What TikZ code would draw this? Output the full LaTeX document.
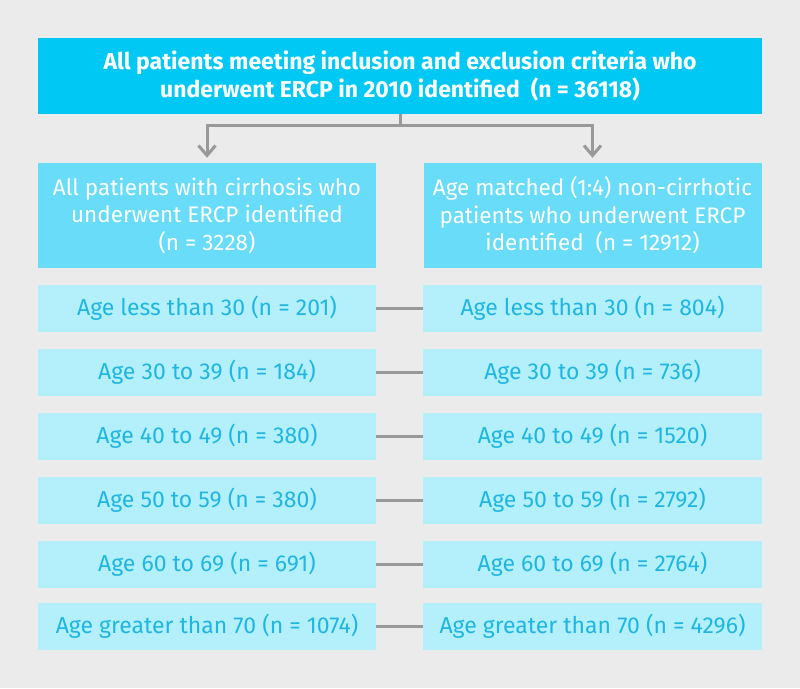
\documentclass[tikz,border=0pt]{standalone}
\usepackage{fontspec}
\setmainfont{Fira Sans}
\usetikzlibrary{arrows.meta,positioning,calc}
\definecolor{pagebg}{HTML}{EBEBEC}
\definecolor{topcyan}{HTML}{00C8F5}
\definecolor{midcyan}{HTML}{68DCF9}
\definecolor{agecyan}{HTML}{B3F0FC}
\definecolor{agetext}{HTML}{1FB6E1}
\definecolor{linkgray}{HTML}{999999}
\tikzset{
  topbox/.style={fill=topcyan, text=white, font=\fontsize{23}{28}\selectfont\bfseries,
    align=center, minimum width=724, minimum height=76, inner sep=0pt},
  groupbox/.style={fill=midcyan, text=white, font=\fontsize{22.5}{27.5}\selectfont,
    align=center, minimum width=338, minimum height=105, inner sep=0pt},
  agebox/.style={fill=agecyan, text=agetext, font=\fontsize{23}{26}\selectfont,
    minimum width=338, minimum height=47, inner sep=0pt},
  link/.style={draw=linkgray, line width=3pt},
  arrowlink/.style={link, -{Straight Barb[length=10pt,width=17pt,line width=3pt]}}
}
\begin{document}
\begin{tikzpicture}[x=1pt,y=-1pt]
  \fill[pagebg] (0,0) rectangle (800,688);
  \useasboundingbox (0,0) rectangle (800,688);

  \node[topbox] (all) at (400,76)
    {All patients meeting inclusion and exclusion criteria who\\
     underwent ERCP in 2010 identified~~(n = 36118)};
  \node[groupbox] (cirr) at (207,215.5)
    {All patients with cirrhosis who\\underwent ERCP identified\\(n = 3228)};
  \node[groupbox] (ctrl) at (592.5,215.5)
    {Age matched (1:4) non-cirrhotic\\patients who underwent ERCP\\identified~~(n = 12912)};

  % split of the cohort
  \coordinate (split) at (400,125);
  \draw[link] (all.south) -- (split);
  \draw[arrowlink] (split) -| ([yshift=5pt]cirr.north);
  \draw[arrowlink] (split) -| ([yshift=5pt]ctrl.north);

  % age strata
  \foreach \i/\y/\age/\nl/\nr in {
      1/308.5/Age less than 30/201/804,
      2/372.5/Age 30 to 39/184/736,
      3/436.5/Age 40 to 49/380/1520,
      4/500.5/Age 50 to 59/380/2792,
      5/564.5/Age 60 to 69/691/2764,
      6/626.5/Age greater than 70/1074/4296} {
    \node[agebox] (left\i) at (207,\y) {\age{} (n = \nl)};
    \node[agebox, minimum width=339] (right\i) at (592.5,\y) {\age{} (n = \nr)};
    \draw[link] (left\i) -- (right\i);
  }
\end{tikzpicture}
\end{document}
